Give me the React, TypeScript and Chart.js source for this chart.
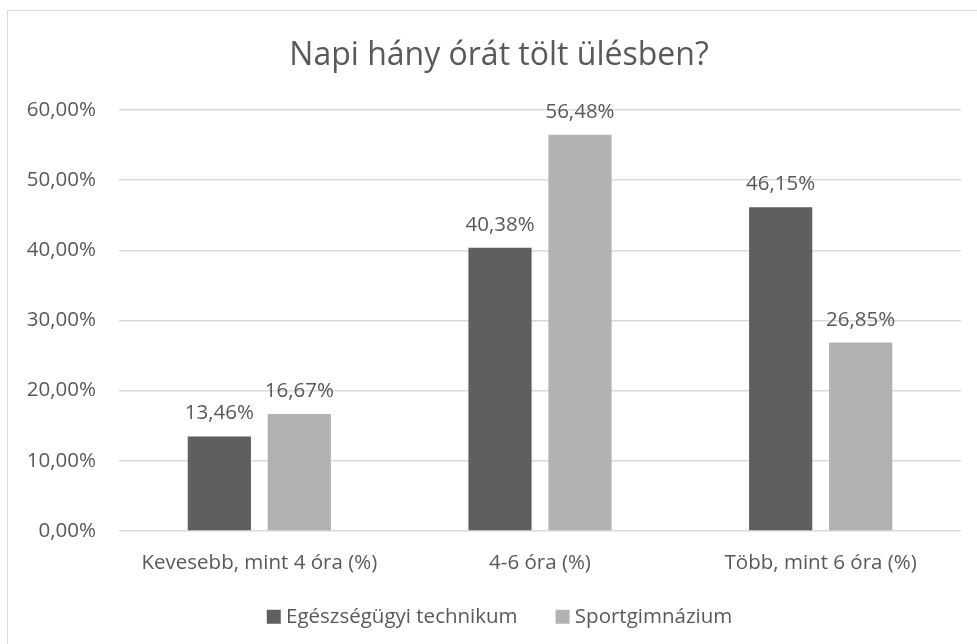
import React, { useEffect, useRef } from "react";
import { Chart, registerables } from "chart.js";

Chart.register(...registerables);

const title = "Napi hány órát tölt ülésben?";
const categories = ["Kevesebb, mint 4 óra (%)", "4-6 óra (%)", "Több, mint 6 óra (%)"];
const seriesNames = ["Egészségügyi technikum", "Sportgimnázium"];
const egeszsegugyi = [13.46, 40.38, 46.15];
const sportgimnazium = [16.67, 56.48, 26.85];
const seriesColors = ["#5f5f5f", "#b2b2b2"];
const yMin = 0;
const yMax = 60;
const yStep = 10;

const FONT = "'Open Sans', 'Noto Sans', sans-serif";
const TEXT = "#595959";
const FS = 20.5;

const fmt = (v: number) => v.toFixed(2).replace(".", ",") + "%";

const dataLabelPlugin = {
  id: "dataLabels",
  afterLayout(chart: any) {
    const lg = chart.legend;
    if (lg) {
      lg.top -= 32;
      lg.bottom -= 32;
      lg.left += 18;
      lg.right += 18;
    }
    const tb = chart.titleBlock;
    if (tb) {
      tb.left += 15;
      tb.right += 15;
    }
  },
  afterDatasetsDraw(chart: any) {
    const ctx = chart.ctx;
    ctx.save();
    ctx.fillStyle = TEXT;
    ctx.font = `${FS}px ${FONT}`;
    ctx.textAlign = "center";
    ctx.textBaseline = "alphabetic";
    chart.data.datasets.forEach((ds: any, di: number) => {
      const meta = chart.getDatasetMeta(di);
      meta.data.forEach((el: any, i: number) => {
        ctx.fillText(fmt(ds.data[i]), el.x, el.y - 17);
      });
    });
    ctx.restore();
  },
};

export default function App() {
  const ref = useRef<HTMLCanvasElement | null>(null);
  useEffect(() => {
    if (!ref.current) return;
    const chart = new Chart(ref.current, {
      type: "bar",
      data: {
        labels: categories,
        datasets: [
          { label: seriesNames[0], data: egeszsegugyi, backgroundColor: seriesColors[0] },
          { label: seriesNames[1], data: sportgimnazium, backgroundColor: seriesColors[1] },
        ],
      },
      options: {
        animation: false,
        responsive: true,
        maintainAspectRatio: false,
        categoryPercentage: 0.57,
        barPercentage: 0.79,
        layout: { padding: { left: 0, right: 30, top: 0, bottom: 0 } },
        plugins: {
          title: {
            display: true,
            text: title,
            color: TEXT,
            font: { family: FONT, size: 32, weight: "normal" },
            padding: { top: 27, bottom: 34.6 },
          },
          legend: {
            position: "bottom",
            labels: {
              color: TEXT,
              font: { family: FONT, size: FS },
              usePointStyle: true,
              pointStyle: "rect",
              boxWidth: 4,
              boxHeight: 14,
              padding: 43,
            },
          },
          tooltip: { enabled: false },
        },
        scales: {
          x: {
            grid: { display: false, drawTicks: false },
            border: { display: false },
            ticks: { color: TEXT, font: { family: FONT, size: FS }, padding: 20, maxRotation: 0 },
          },
          y: {
            min: yMin,
            max: yMax,
            grid: { color: "#d9d9d9", lineWidth: 1.5, drawTicks: false },
            border: { display: false },
            ticks: {
              stepSize: yStep,
              color: TEXT,
              font: { family: FONT, size: FS },
              padding: 23,
              callback: (v: any) => fmt(Number(v)),
            },
            afterFit: (s: any) => {
              s.width = 112;
            },
          },
        },
      },
      plugins: [dataLabelPlugin],
    });
    return () => chart.destroy();
  }, []);

  return (
    <div style={{ position: "fixed", left: 0, top: 0, width: 977, height: 644, overflow: "hidden", background: "#fff" }}>
      <div
        style={{
          position: "absolute",
          left: 7,
          top: 10,
          width: 990,
          height: 700,
          border: "1.5px solid #d9d9d9",
          boxSizing: "border-box",
        }}
      />
      <div style={{ position: "absolute", left: 7, top: 10, width: 984, height: 659 }}>
        <canvas ref={ref} />
      </div>
    </div>
  );
}
